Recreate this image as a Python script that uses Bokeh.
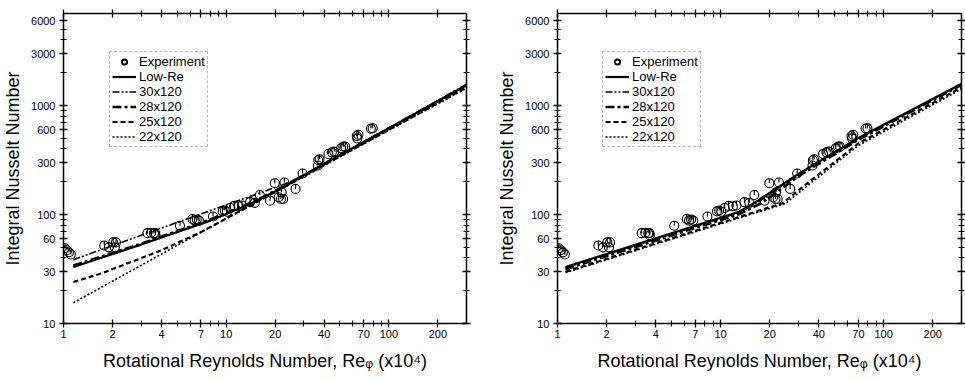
from bokeh.plotting import figure
from bokeh.layouts import row
from bokeh.models import (FixedTicker, LogAxis, Legend, LegendItem, PrintfTickFormatter,
                          CustomLabelingPolicy)
from bokeh.embed import file_html
from bokeh.resources import INLINE

# ---------------- data ----------------
X_MAJOR = [1, 2, 4, 7, 10, 20, 40, 70, 100, 200]
X_MINOR = [3, 5, 6, 8, 9, 30, 50, 60, 80, 90]
Y_MAJOR = [10, 30, 60, 100, 300, 600, 1000, 3000, 6000]
Y_MINOR = [20, 40, 50, 70, 80, 90, 200, 400, 500, 700, 800, 900, 2000, 4000, 5000]

exp_x = [1.02, 1.05, 1.08, 1.11,
         1.78, 1.9, 2.02, 2.1, 2.07,
         3.28, 3.45, 3.6, 3.68, 3.66,
         5.2,
         6.2, 6.4, 6.6, 6.8,
         8.3,
         9.5, 9.8, 10.1, 10.6, 11.2, 11.9, 12.5,
         14.0, 15.0, 16.1, 18.6,
         19.9, 21.0, 21.7, 22.4, 21.9, 22.8,
         26.7, 29.5,
         36.8, 37.5, 36.6,
         42.5, 44.6, 46.2,
         50.8, 52.5, 53.9,
         63.5, 65.0, 64.0,
         77.5, 79.5]
exp_y = [49, 47, 45, 43,
         52, 50, 55.5, 55.5, 50,
         67.5, 68, 67.5, 64.5, 67.5,
         79,
         91, 88, 90, 88,
         96,
         107, 109, 106, 115, 120, 119, 121,
         130, 128, 151, 134,
         194, 144, 139, 139, 160, 197,
         172, 238,
         315, 322, 282,
         360, 372, 378,
         405, 420, 420,
         525, 540, 500,
         615, 620]

SERIES = ["Low-Re", "30x120", "28x120", "25x120", "22x120"]

# left panel curves
L_lowre_x = [1.15, 3, 8, 14, 22, 40, 100, 300]
L_lowre_y = [33, 53, 88, 125, 175, 292, 620, 1540]
L_30_x = [1.15, 3.5, 16.5, 25, 40, 100, 300]
L_30_y = [38.5, 70, 160, 200, 295, 625, 1570]
L_28_x = [1.15, 3, 8, 15, 22, 40, 100, 300]
L_28_y = [34, 54, 90, 133, 178, 290, 615, 1530]
L_25_x = [1.15, 1.73, 4, 7, 10, 25, 40, 100, 300]
L_25_y = [24, 29, 47, 69, 92, 193, 285, 600, 1470]
L_22_x = [1.15, 5.1, 25, 100, 300]
L_22_y = [15.5, 53, 192, 595, 1440]

# right panel curves
R_lowre_x = [1.12, 13, 16, 30, 70, 300]
R_lowre_y = [33, 106, 127, 236, 505, 1590]
R_30_x = [1.12, 13, 17, 30, 70, 300]
R_30_y = [32.5, 104, 130, 232, 495, 1570]
R_28_x = [1.12, 13, 18, 30, 70, 300]
R_28_y = [31.5, 101, 128, 225, 485, 1550]
R_25_x = [1.12, 13, 24, 35, 70, 300]
R_25_y = [29.8, 95, 127, 200, 450, 1470]
R_22_x = [1.12, 13, 25, 35, 70, 300]
R_22_y = [29.3, 93, 126, 190, 430, 1420]

LEFT = {"Low-Re": (L_lowre_x, L_lowre_y), "30x120": (L_30_x, L_30_y),
        "28x120": (L_28_x, L_28_y), "25x120": (L_25_x, L_25_y),
        "22x120": (L_22_x, L_22_y)}
RIGHT = {"Low-Re": (R_lowre_x, R_lowre_y), "30x120": (R_30_x, R_30_y),
         "28x120": (R_28_x, R_28_y), "25x120": (R_25_x, R_25_y),
         "22x120": (R_22_x, R_22_y)}

STYLES = {
    "Low-Re": dict(line_dash="solid", line_width=2.2),
    "30x120": dict(line_dash="7 2 2 2 2 2", line_width=1.6),
    "28x120": dict(line_dash="9 3 3 3", line_width=2.6),
    "25x120": dict(line_dash="5 3", line_width=2.2),
    "22x120": dict(line_dash="2 2", line_width=1.6),
}

FONT = "Liberation Sans"
X_LABEL = "Rotational Reynolds Number, Re\u1d69 (x10\u2074)"
Y_LABEL = "Integral Nusselt Number"


def style_axis(ax, labels=True):
    ax.axis_line_color = "black"
    ax.axis_line_width = 1.5
    ax.major_tick_line_color = "black"
    ax.minor_tick_line_color = "black"
    ax.major_tick_line_width = 1.3
    ax.minor_tick_line_width = 1.1
    ax.major_tick_in = 4
    ax.major_tick_out = 4
    ax.minor_tick_in = 3
    ax.minor_tick_out = 3
    if labels:
        ax.major_label_text_font = FONT
        ax.major_label_text_font_size = "11px"
        ax.major_label_text_color = "black"
        ax.axis_label_text_font = FONT
        ax.axis_label_text_font_size = "18px"
        ax.axis_label_text_font_style = "normal"
        ax.axis_label_text_color = "black"
        ax.formatter = PrintfTickFormatter(format="%d")
    else:
        ax.major_label_text_font_size = "0px"
        ax.major_label_standoff = 0
        ax.major_label_policy = CustomLabelingPolicy(code="return []")


def make_panel(curves, width, mb_left, mb_right, mb_top, mb_bottom, leg_xy):
    p = figure(width=width, height=380, x_axis_type="log", y_axis_type="log",
               x_range=(1, 300), y_range=(10, 7000),
               output_backend="svg", toolbar_location=None,
               min_border_left=mb_left, min_border_right=mb_right,
               min_border_top=mb_top, min_border_bottom=mb_bottom,
               background_fill_color="white", border_fill_color="white")
    p.outline_line_color = None
    p.xgrid.visible = False
    p.ygrid.visible = False

    p.xaxis.ticker = FixedTicker(ticks=X_MAJOR, minor_ticks=X_MINOR)
    p.yaxis.ticker = FixedTicker(ticks=Y_MAJOR, minor_ticks=Y_MINOR)
    for ax in p.xaxis:
        style_axis(ax)
        ax.axis_label = X_LABEL
        ax.major_label_standoff = 2
        ax.axis_label_standoff = 10
    for ax in p.yaxis:
        style_axis(ax)
        ax.axis_label = Y_LABEL
        ax.major_label_standoff = 4
        ax.axis_label_standoff = 5

    top = LogAxis(ticker=FixedTicker(ticks=X_MAJOR, minor_ticks=X_MINOR))
    style_axis(top, labels=False)
    p.add_layout(top, "above")
    right = LogAxis(ticker=FixedTicker(ticks=Y_MAJOR, minor_ticks=Y_MINOR))
    style_axis(right, labels=False)
    p.add_layout(right, "right")

    line_rs = {}
    for name in SERIES:
        xs, ys = curves[name]
        line_rs[name] = p.line(xs, ys, line_color="black", line_cap="butt",
                               **STYLES[name])

    p.ray(x=exp_x, y=exp_y, length=4.5, length_units="screen", angle=90,
          angle_units="deg", line_color="black", line_width=1.1)
    p.scatter(exp_x, exp_y, marker="circle", size=9, fill_color=None,
              line_color="black", line_width=1.1)

    # legend-only marker: a single point placed outside the visible range
    leg_marker = p.scatter([0.5], [5], marker="circle", size=10, fill_color=None,
                           line_color="black", line_width=2)

    items = [LegendItem(label="Experiment", renderers=[leg_marker])]
    for name in SERIES:
        items.append(LegendItem(label=name, renderers=[line_rs[name]]))

    leg = Legend(items=items, location=leg_xy)
    leg.label_text_font = FONT
    leg.label_text_font_size = "13px"
    leg.label_text_color = "black"
    leg.glyph_width = 24
    leg.glyph_height = 13
    leg.label_height = 13
    leg.label_standoff = 3
    leg.spacing = -1
    leg.padding = 2
    leg.margin = 0
    leg.border_line_color = "#777777"
    leg.border_line_width = 1
    leg.border_line_dash = "2 2"
    leg.background_fill_color = "white"
    leg.background_fill_alpha = 1
    p.add_layout(leg)
    return p


p1 = make_panel(LEFT, 482, 61, 16, 8, 57, (46, 176))
p2 = make_panel(RIGHT, 483, 75, 3, 13, 53, (45, 176))

layout = row(p1, p2)
open("out.html", "w").write(file_html(layout, INLINE))
